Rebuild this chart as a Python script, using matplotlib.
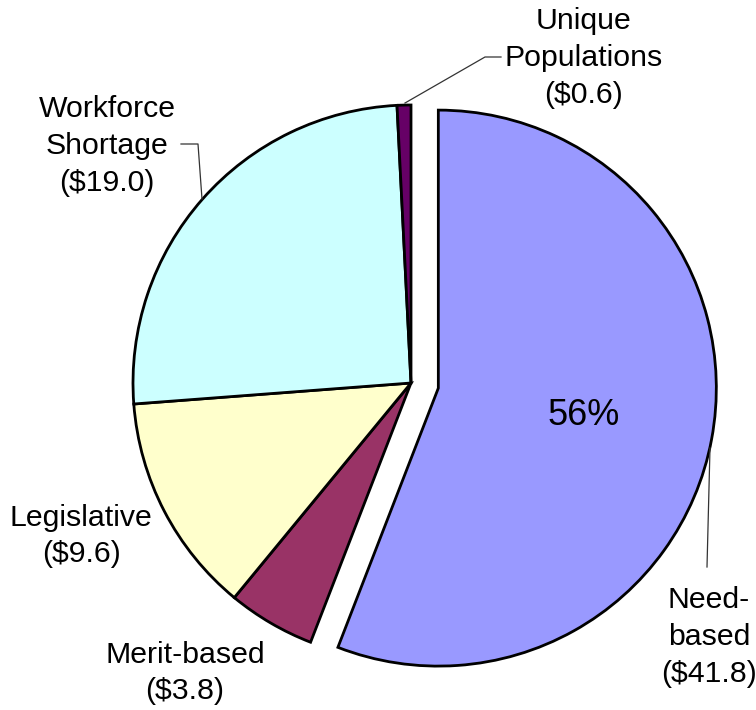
import matplotlib
matplotlib.use("Agg")
import matplotlib.pyplot as plt

plt.rcParams['font.family'] = ['Liberation Sans', 'DejaVu Sans']

# Data (millions of dollars)
categories = ['Need-\nbased', 'Merit-based', 'Legislative', 'Workforce\nShortage', 'Unique\nPopulations']
amounts = [41.8, 3.8, 9.6, 19.0, 0.6]
colors = ['#9999FF', '#993366', '#FFFFCC', '#CCFFFF', '#660066']
explode = [0.1, 0, 0, 0, 0]

# Layout helpers: work in pixel space, scaled so pie radius = 1
W, H = 756, 710
R = 278.0


def P(x, y):
    return (x / R, (H - y) / R)


fig = plt.figure(figsize=(W / 100, H / 100), dpi=100)
ax = fig.add_axes([0, 0, 1, 1])


def pct_fmt(p):
    # Only the largest slice gets a percentage
    return f"{p:.0f}%" if p > 50 else ""


wedges, texts, autotexts = ax.pie(
    amounts, explode=explode, colors=colors, startangle=90, counterclock=False,
    center=P(411, 383), radius=1.0, autopct=pct_fmt, pctdistance=0.53,
    wedgeprops=dict(edgecolor='black', linewidth=2.0),
    textprops=dict(fontsize=26, color='black'))

ax.set_xlim(0, W / R)
ax.set_ylim(0, H / R)
ax.set_aspect('equal')
ax.axis('off')

# Category labels with amounts
label_pos = [(709, 637), (185, 673), (81, 536), (107, 146), (584, 58)]
for cat, amt, (lx, ly) in zip(categories, amounts, label_pos):
    ax.text(*P(lx, ly), f"{cat}\n(${amt:.1f})", ha='center', va='center',
            fontsize=21.8, linespacing=1.4)

# Leader lines
leaders = [
    [(710, 448), (707, 567)],
    [(181, 144), (198, 144), (202, 199)],
    [(405, 103), (485, 57), (501, 57)],
]
for pts in leaders:
    xs, ys = zip(*[P(x, y) for x, y in pts])
    ax.plot(xs, ys, color='#333333', linewidth=0.9)

fig.savefig("out.png", dpi=100)
